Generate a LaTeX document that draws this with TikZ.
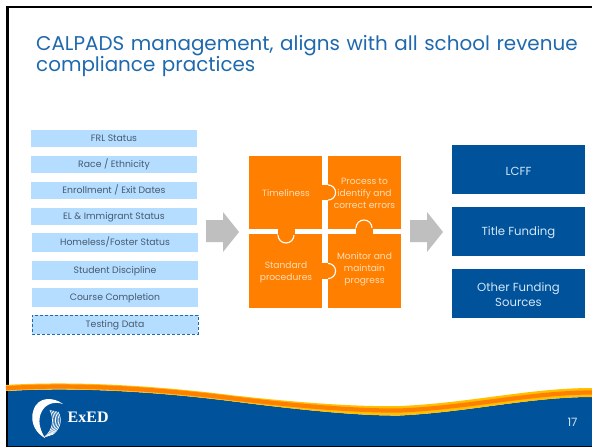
\documentclass[tikz,border=0pt]{standalone}
\usepackage{fontspec}
\setmainfont{Poppins}
\newfontfamily\logofont{Liberation Serif}[Scale=1]
\definecolor{navy}{HTML}{00539B}
\definecolor{titleblue}{HTML}{1F69AE}
\definecolor{lightbox}{HTML}{B5DDFF}
\definecolor{boxtext}{HTML}{465A70}
\definecolor{orangefill}{HTML}{FF8000}
\definecolor{yellowband}{HTML}{FFC000}
\definecolor{puzzletext}{HTML}{FFDDB8}
\definecolor{navytext}{HTML}{D3E6F7}
\definecolor{arrowgrey}{HTML}{BFBFBF}
\tikzset{
  srcbox/.style={fill=lightbox,text=boxtext,font=\fontsize{9.3}{10}\selectfont,minimum width=166pt,inner sep=0pt,anchor=center,text height=7.6pt,text depth=1pt},
  dashbox/.style={srcbox,draw=titleblue,densely dashed,line width=0.5pt},
  fundbox/.style={fill=navy,minimum width=133pt,minimum height=49pt,inner sep=0pt},
  fundtext/.style={text=navytext,font=\fontsize{11.7}{15}\selectfont,align=center,inner sep=0pt},
  piece/.style={fill=orangefill,minimum width=73pt,minimum height=73pt,inner sep=0pt},
  piecetext/.style={text=puzzletext,font=\fontsize{9.1}{12}\selectfont,align=center,inner sep=0pt},
  bigarrow/.style={fill=arrowgrey},
  knob/.style={fill=orangefill,draw=white,line width=1.1pt},
  neck/.style={fill=orangefill}
}
\begin{document}
\begin{tikzpicture}[x=1pt,y=-1pt]
\useasboundingbox (0,0) rectangle (592,447);
\fill[white] (0,0) rectangle (592,447);
% slide frame
\fill[black] (6,5.5) rectangle (592,8);
\fill[black] (6,5.5) rectangle (8.6,447);
\fill[black] (6,445.8) rectangle (592,447);
% title
\node[anchor=north west,inner sep=0pt,text=titleblue,font=\fontsize{19.9}{21}\selectfont,align=left,text width=552pt] (title) at (36,35) {CALPADS management, aligns with all school revenue\\compliance practices};
% source boxes
\node[srcbox,minimum height=17pt] (s1) at (114,138.5) {FRL Status};
\node[srcbox,minimum height=17pt] (s2) at (114,164.5) {Race / Ethnicity};
\node[srcbox,minimum height=17pt] (s3) at (114,190.5) {Enrollment / Exit Dates};
\node[srcbox,minimum height=17pt] (s4) at (114,216.5) {EL \& Immigrant Status};
\node[srcbox,minimum height=19pt] (s5) at (115,242.5) {Homeless/Foster Status};
\node[srcbox,minimum height=19pt] (s6) at (115,270.5) {Student Discipline};
\node[srcbox,minimum height=19pt] (s7) at (115,297.5) {Course Completion};
\node[dashbox,minimum height=19pt] (s8) at (115,324.5) {Testing Data};
% arrows
\fill[bigarrow] (206,220) -- (223,220) -- (223,212) -- (239,232) -- (223,252) -- (223,242) -- (206,242) -- cycle;
\fill[bigarrow] (410,220) -- (427,220) -- (427,212) -- (443,232) -- (427,252) -- (427,242) -- (410,242) -- cycle;
% puzzle
\node[piece] (p1) at (285.5,192.5) {};
\node[piece] (p2) at (364.5,192.5) {};
\node[piece,minimum height=74pt] (p3) at (285.5,271) {};
\node[piece,minimum height=74pt] (p4) at (364.5,271) {};
\draw[knob] (328,192.5) circle (7.6);
\fill[neck] (318,184.9) rectangle (328,200.1);
\draw[knob] (328,271) circle (7.6);
\fill[neck] (318,263.4) rectangle (328,278.6);
\draw[knob] (286,235) circle (8);
\fill[neck] (277.5,225) rectangle (294.5,234.8);
\draw[knob] (364,228) circle (8);
\fill[neck] (355.5,228.2) rectangle (372.5,238);
\node[piecetext] (t1) at (286,193) {Timeliness};
\node[piecetext] (t2) at (364.5,193.3) {Process to\\identify and\\correct errors};
\node[piecetext] (t3) at (286,272) {Standard\\procedures};
\node[piecetext] (t4) at (364.5,269) {Monitor and\\maintain\\progress};
% funding boxes
\node[fundbox] (f1) at (518.5,169.5) {};
\node[fundbox] (f2) at (518.5,231.5) {};
\node[fundbox] (f3) at (518.5,293.5) {};
\node[fundtext] (ft1) at (518.5,171) {LCFF};
\node[fundtext] (ft2) at (518.5,232.5) {Title Funding};
\node[fundtext] (ft3) at (518.5,294.5) {Other Funding\\Sources};
% footer wave
\fill[navy] (8,391) .. controls (70,387) and (150,391) .. (230,401) .. controls (300,410) and (360,416) .. (400,415.5) .. controls (470,412) and (530,397) .. (592,397) -- (592,446) -- (8,446) -- cycle;
\fill[yellowband] (6,385) .. controls (70,381) and (150,385) .. (230,395) .. controls (300,403) and (360,407) .. (400,406) .. controls (470,403) and (530,388) .. (592,388)
  -- (592,397) .. controls (530,397) and (470,412) .. (400,415.5) .. controls (360,416) and (300,410) .. (230,401) .. controls (150,391) and (70,387) .. (6,391) -- cycle;
\draw[orangefill,line width=4.2pt] (6,388.2) .. controls (70,384) and (150,388) .. (230,398) .. controls (300,406.5) and (360,411) .. (400,410.5) .. controls (470,407.5) and (530,392.5) .. (592,392.5);
% logo
\fill[white] (63,404) .. controls (54,397) and (38,396) .. (33.5,410) .. controls (29,423) and (37,434) .. (45,438) .. controls (40,430) and (37,420) .. (42,411) .. controls (46,404) and (54,401) .. (63,404) -- cycle;
\foreach \d in {0,1.8,3.6,5.4,7.2,9}{
  \draw[white,line width=0.7pt] ({50+\d*0.9},{410+\d*0.2}) .. controls ({54+\d},{418+\d*0.3}) and ({54+\d*0.6},{430}) .. ({44+\d*0.9},{437.5-\d*0.3});
}
\node[anchor=west,inner sep=0pt,text=white,font=\logofont\bfseries\fontsize{16}{18}\selectfont] (logo) at (67.5,417) {ExED};
\node[inner sep=0pt,text=navytext,font=\fontsize{11.5}{13}\selectfont] (pg) at (572.5,422.5) {17};
\end{tikzpicture}
\end{document}
